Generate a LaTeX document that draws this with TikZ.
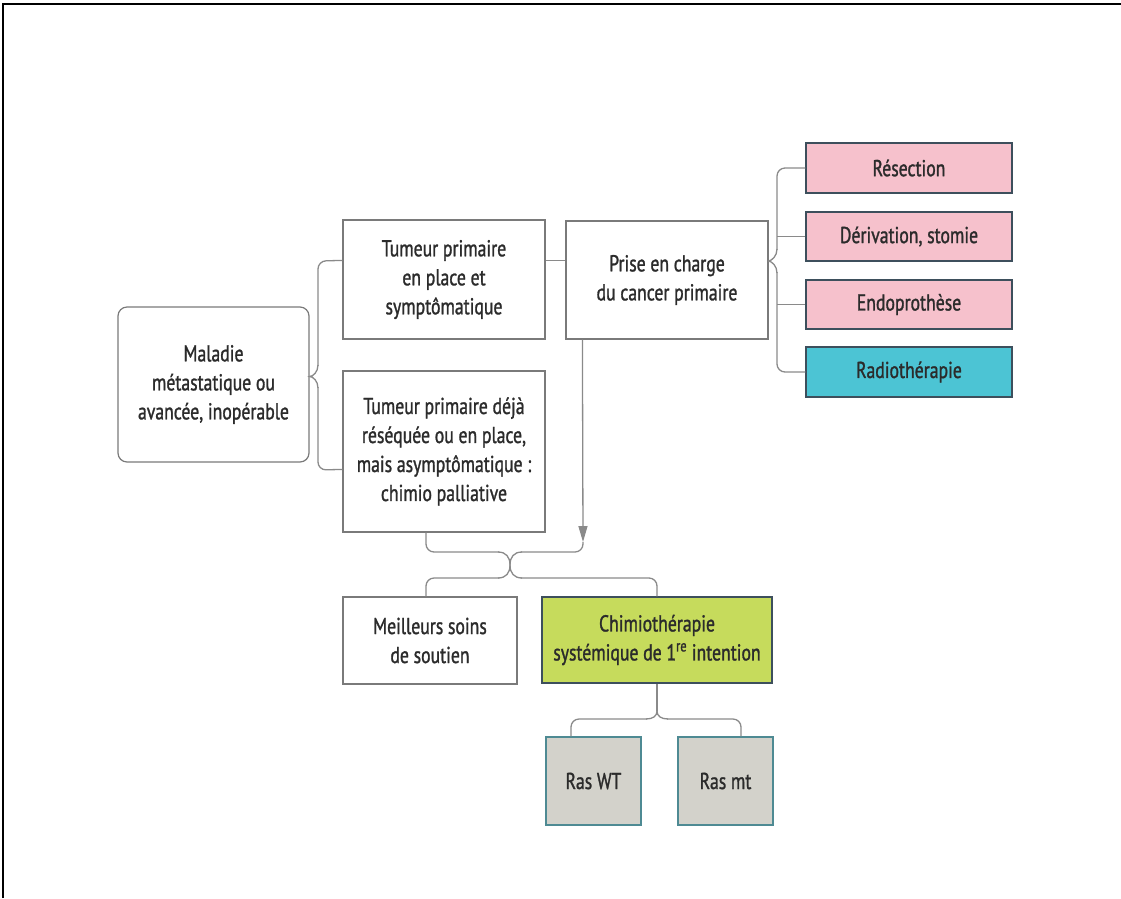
\documentclass[tikz,border=0pt]{standalone}
\usepackage{fontspec}
\setmainfont{PT Sans}[FakeStretch=0.77, FakeBold=1.2]
\usetikzlibrary{calc,arrows.meta}
\definecolor{conncol}{HTML}{8A8A8A}
\definecolor{wbord}{HTML}{7A7A7A}
\definecolor{cbord}{HTML}{3D4F5C}
\definecolor{pinkf}{HTML}{F6C1CC}
\definecolor{cyanf}{HTML}{4CC4D4}
\definecolor{greenf}{HTML}{C6DB5C}
\definecolor{grayf}{HTML}{D3D2CB}
\definecolor{grayb}{HTML}{4E8A93}
\definecolor{txt}{HTML}{2B2B2B}
\tikzset{
  base/.style={rectangle, align=center, inner sep=0pt, text=txt,
    font=\fontsize{23}{29}\selectfont},
  wbox/.style={base, draw=wbord, line width=1.2pt, fill=white},
  pbox/.style={base, draw=cbord, line width=1.5pt, fill=pinkf},
  cbox/.style={base, draw=cbord, line width=1.5pt, fill=cyanf},
  gbox/.style={base, draw=cbord, line width=1.5pt, fill=greenf},
  rbox/.style={base, draw=grayb, line width=1.5pt, fill=grayf},
  conn/.style={draw=conncol, line width=1.3pt},
}
\begin{document}
\begin{tikzpicture}[x=1pt,y=-1pt]
\useasboundingbox (0,0) rectangle (1121,898);
\draw[black, line width=2pt] (3,898) -- (3,4) -- (1121,4);

% nodes
\node[wbox, rounded corners=9pt, minimum width=191pt, minimum height=155pt] (mal) at (213.5,384.5)
  {Maladie\\métastatique ou\\avancée, inopérable};
\node[wbox, minimum width=202pt, minimum height=119pt] (tp1) at (444,279.5)
  {Tumeur primaire\\en place et\\symptômatique};
\node[wbox, minimum width=202pt, minimum height=161pt] (tp2) at (444,451.5)
  {Tumeur primaire déjà\\réséquée ou en place,\\mais asymptômatique :\\chimio palliative};
\node[wbox, minimum width=202pt, minimum height=118pt] (prise) at (667,280)
  {Prise en charge\\du cancer primaire};
\node[pbox, minimum width=206pt, minimum height=50pt] (res) at (909,168) {Résection};
\node[pbox, minimum width=206pt, minimum height=49pt] (der) at (909,236.5) {Dérivation, stomie};
\node[pbox, minimum width=206pt, minimum height=49pt] (endo) at (909,304.5) {Endoprothèse};
\node[cbox, minimum width=206pt, minimum height=50pt] (radio) at (909,372) {Radiothérapie};
\node[wbox, minimum width=174pt, minimum height=87pt] (soins) at (430,640.5)
  {Meilleurs soins\\de soutien};
\node[gbox, minimum width=230pt, minimum height=86pt] (chimio) at (657,640)
  {Chimiothérapie\\systémique de 1\textsuperscript{re} intention};
\node[rbox, minimum width=95pt, minimum height=88pt] (wt) at (593.5,781) {Ras WT};
\node[rbox, minimum width=95pt, minimum height=88pt] (mt) at (725.5,781) {Ras mt};

% brace: Maladie -> tp1 / tp2
\coordinate (mtip) at ($(mal.east)+(0,-8)$);
\draw[conn, rounded corners=8pt]
  ($(tp1.north west)+(0,41)$) -- (318,261) -- (318,366);
\draw[conn]
  (318,365) .. controls (318,372) and (313,376.5) .. (mtip)
  .. controls (313,376.5) and (318,381) .. (318,388);
\draw[conn, rounded corners=8pt]
  (318,387) -- (318,470) -- ($(tp2.north west)+(0,99)$);
% tp1 -> prise
\draw[conn] ($(tp1.north east)+(0,41)$) -- ($(prise.north west)+(0,40)$);
% brace: prise -> four treatments
\coordinate (ptip) at ($(prise.east)+(0,-19)$);
\draw[conn, rounded corners=8pt]
  (res.west) -- (777,168) -- (777,250);
\draw[conn]
  (777,249) .. controls (777,256) and (772,260.5) .. (ptip)
  .. controls (772,261.5) and (777,266) .. (777,273);
\draw[conn, rounded corners=8pt]
  (777,272) -- (777,372) -- (radio.west);
\draw[conn] (der.west) -- (777,236.5);
\draw[conn] (endo.west) -- (777,304.5);
% arrow from prise downward
\coordinate (arrtip) at (583,542);
\draw[conn, -{Triangle[width=9pt,length=16pt,fill=conncol]}] ($(prise.south west)+(17,0)$) -- (arrtip);
% merging brace
\coordinate (cross) at (510,565);
\draw[conn, rounded corners=8pt]
  ($(tp2.south)+(-18,0)$) -- (426,552) -- (499,552);
\draw[conn] (498,552) .. controls (506,552) and (510,557) .. (cross);
\draw[conn, rounded corners=8pt]
  (arrtip) -- (583,552) -- (521,552);
\draw[conn] (522,552) .. controls (514,552) and (510,557) .. (cross);
\draw[conn] (cross) .. controls (510,573) and (506,578) .. (498,578);
\draw[conn, rounded corners=8pt]
  (499,578) -- (426,578) -- ($(soins.north)+(-4,0)$);
\draw[conn] (cross) .. controls (510,573) and (514,578) .. (522,578);
\draw[conn, rounded corners=8pt]
  (521,578) -- (657,578) -- (chimio.north);
% brace: chimio -> Ras
\coordinate (rtip) at (657,711);
\draw[conn] (chimio.south) -- (rtip);
\draw[conn] (rtip) .. controls (657,716) and (653,719) .. (646,719);
\draw[conn, rounded corners=8pt]
  (647,719) -- (571,719) -- ($(wt.north)+(-22.5,0)$);
\draw[conn] (rtip) .. controls (657,716) and (661,719) .. (668,719);
\draw[conn, rounded corners=8pt]
  (667,719) -- (741,719) -- ($(mt.north)+(15.5,0)$);
\end{tikzpicture}
\end{document}
